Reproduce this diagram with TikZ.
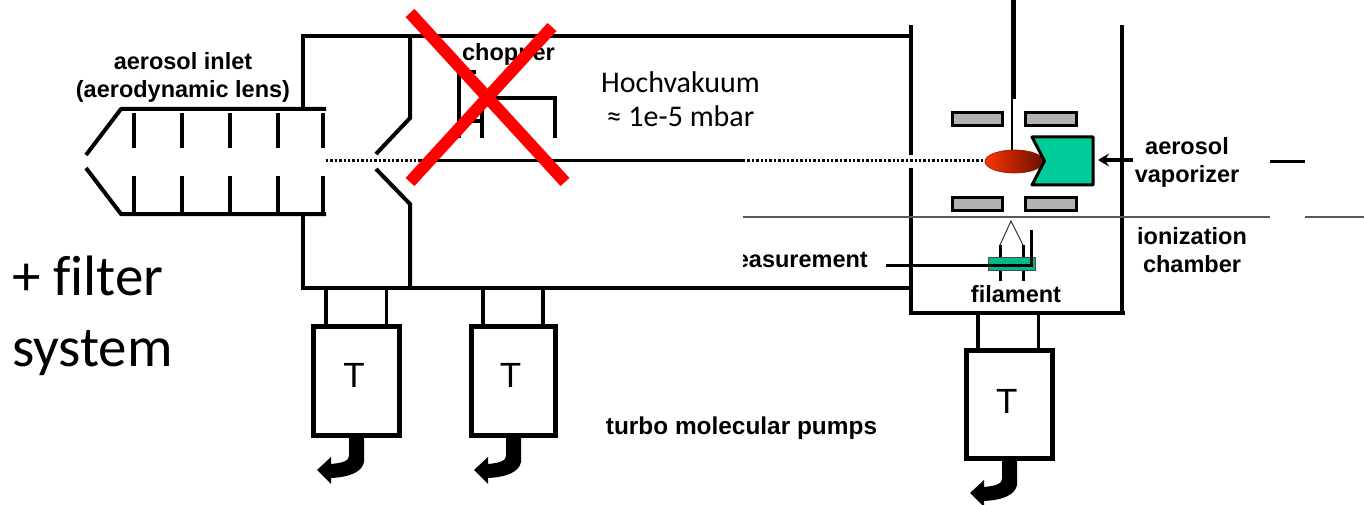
\documentclass[tikz,border=0pt]{standalone}
\usepackage{fontspec}
\setmainfont{Liberation Sans}
\newfontfamily\calfont[Ligatures=CommonOff]{Carlito}
\usetikzlibrary{arrows.meta}
\definecolor{vapgreen}{HTML}{00CC99}
\definecolor{platefill}{HTML}{B2B2B2}
\definecolor{ovalL}{HTML}{FF3300}
\definecolor{ovalR}{HTML}{661100}
\tikzset{
  wall/.style={line width=4pt,black,line cap=butt},
  thick wall/.style={line width=5pt,black,line join=miter},
  neck/.style={line width=3.5pt,black},
  beam/.style={line width=3pt,black,dash pattern=on 2.4pt off 2pt},
  plate/.style={draw=black,line width=3pt,fill=platefill},
  redcross/.style={line width=12pt,red},
  lab/.style={font=\fontsize{23.5}{28}\selectfont\bfseries,align=center,inner sep=0pt},
  turbolab/.style={font=\fontsize{24.4}{28}\selectfont\bfseries,align=center,inner sep=0pt},
  callab/.style={font=\calfont\fontsize{30}{34}\selectfont,align=center,inner sep=0pt},
  biglab/.style={font=\calfont\fontsize{57}{71}\selectfont,align=left,inner sep=0pt},
  tlab/.style={font=\fontsize{35}{40}\selectfont,inner sep=0pt},
}
\newcommand{\pumparrow}[2]{%
  \fill[black,shift={(#1,#2)}] (349,437) -- (364,437) -- (364,462)
    .. controls (362,472) and (350,477) .. (331,478) -- (331,484) -- (317,470) -- (331,457) -- (331,464)
    .. controls (342,463) and (349,461) .. (349,456) -- cycle;}
\begin{document}
\begin{tikzpicture}[x=1pt,y=-1pt]
\useasboundingbox (0,0) rectangle (1364,505);
% lens
\draw[wall,line join=round] (86,155) -- (121,109) -- (326,109);
\draw[wall,line join=round] (86,168) -- (121,214) -- (326,214);
\foreach \x in {133.5,181.5,230,278,323}{
  \draw[wall] (\x,113) -- (\x,148);
  \draw[wall] (\x,176) -- (\x,214);
}
% main chamber
\draw[wall,line join=miter] (303,109) -- (303,36) -- (910,36);
\draw[wall,line join=miter] (303,214) -- (303,288) -- (910,288);
\draw[wall,line join=miter] (410,36) -- (410,118) -- (376,154);
\draw[wall,line join=miter] (376,169) -- (410,204) -- (410,288);
% chopper
\draw[wall,line join=miter] (476,72) -- (459,72) -- (459,138);
\draw[wall] (459,121) -- (482,121);
\draw[wall,line join=miter] (482,138) -- (482,98) -- (555,98) -- (555,138);
\node[lab] (chopper) at (508.5,54) {chopper};
% beam
\draw[line width=3pt] (420,161) -- (743,161);
\draw[beam] (326,161) -- (420,161);
\draw[beam] (743,161) -- (985,161);
% ionization chamber
\draw[wall,line join=miter] (911,25) -- (911,155);
\draw[wall,line join=miter] (911,168) -- (911,313) -- (1125,313);
\draw[wall] (1122,25) -- (1122,313);
% needle
\draw[line width=5pt] (1013.5,0) -- (1013.5,99);
\draw[line width=2.4pt] (1012,99) -- (1012,150);
% plates
\draw[plate] (952,113) rectangle (1002,126);
\draw[plate] (1025,113) rectangle (1076,126);
\draw[plate] (952,197) rectangle (1002,210);
\draw[plate] (1025,197) rectangle (1076,210);
% oval and vaporizer
\draw[draw=ovalL!60!black,line width=0.7pt,left color=ovalL,right color=ovalR] (1014.5,161.5) ellipse [x radius=29.5,y radius=11.5];
\draw[line width=3pt,fill=vapgreen,line join=round] (1032,137) -- (1093,137) -- (1093,185) -- (1032,185) -- (1044.5,161) -- cycle;
\draw[line width=4pt,-{Stealth[length=11pt,width=13pt,inset=4pt]}] (1133,160) -- (1098,160);
% grey line and black dash
\draw[line width=1.3pt,black!65] (743,217) -- (1270,217);
\draw[line width=1.3pt,black!65] (1305,217) -- (1364,217);
\draw[line width=2.5pt] (1270,161.5) -- (1305,161.5);
% filament
\draw[line width=3pt] (1000,245) -- (1000,281);
\draw[line width=3pt] (1023,245) -- (1023,281);
\draw[line width=1pt,black!80] (1000,245) -- (1011,221) -- (1023,245);
\draw[draw=black!70,line width=0.8pt,fill=vapgreen!90!black] (988,257) rectangle (1035,270);
\draw[line width=3pt,line join=miter] (886,265) -- (1031,265) -- (1031,230);
% pumps
\draw[neck] (326,288) -- (326,326);
\draw[neck] (386.5,288) -- (386.5,326);
\draw[thick wall] (313.5,326) rectangle (399.5,435);
\node[tlab] (t1) at (354,375.5) {T};
\pumparrow{0}{0}
\draw[neck] (483,288) -- (483,326);
\draw[neck] (543,288) -- (543,326);
\draw[thick wall] (471.5,326) rectangle (555.5,435);
\node[tlab] (t2) at (510.5,375.5) {T};
\pumparrow{157}{0}
\draw[neck] (978,313) -- (978,350);
\draw[neck] (1038.5,313) -- (1038.5,350);
\draw[thick wall] (966.5,350.5) rectangle (1052.5,458.5);
\node[tlab] (t3) at (1006.7,401) {T};
\pumparrow{653}{23}
% labels
\node[lab] (inlet) at (183,77.5) {aerosol inlet\\(aerodynamic lens)};
\node[callab] (hv) at (680.5,99) {Hochvakuum\\≈ 1e-5 mbar};
\node[biglab,anchor=west] (filter) at (12,316) {+ filter\\system};
\node[lab] (vap) at (1187,162.5) {aerosol\\vaporizer};
\node[lab] (ion) at (1192,250) {ionization\\chamber};
\node[lab] (fil) at (1016,294) {filament};
\begin{scope}
\clip (743,240) rectangle (880,280);
\node[lab,anchor=east] (meas) at (868,260) {measurement};
\end{scope}
\node[turbolab] (turbo) at (741.5,428.5) {turbo molecular pumps};
% red cross
\draw[redcross] (410,13) -- (565,182);
\draw[redcross] (552,27) -- (410,182);
\end{tikzpicture}
\end{document}
